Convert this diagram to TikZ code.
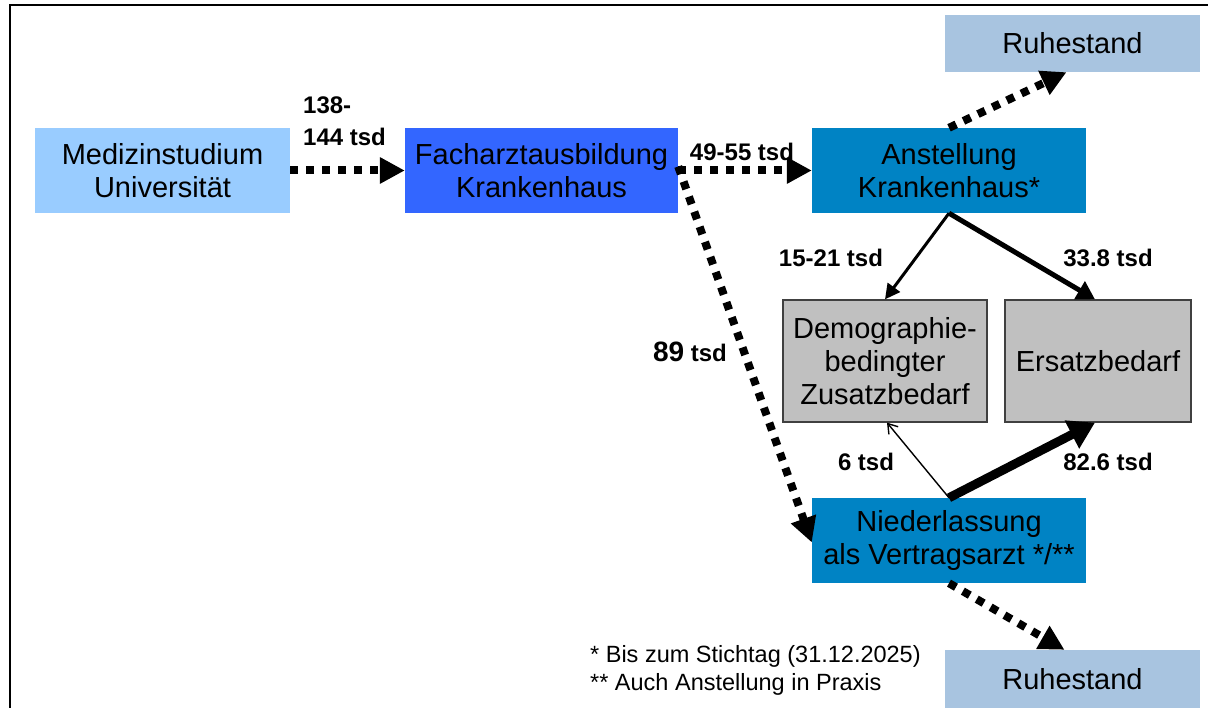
\documentclass[tikz,border=0pt]{standalone}
\usepackage{fontspec}
\setmainfont{Liberation Sans}
\usetikzlibrary{arrows.meta}
\definecolor{cMed}{RGB}{153,204,255}
\definecolor{cFach}{RGB}{51,102,255}
\definecolor{cAnst}{RGB}{0,131,196}
\definecolor{cRuhe}{RGB}{168,196,224}
\definecolor{cGray}{RGB}{192,192,192}
\definecolor{cGrayB}{RGB}{64,64,64}
\tikzset{
  box/.style={rectangle, inner sep=0pt, align=center, font=\fontsize{29}{33}\selectfont},
  graybox/.style={box, fill=cGray, draw=cGrayB, line width=1.3pt},
  lbl/.style={font=\fontsize{24}{32}\selectfont\bfseries, inner sep=0pt},
  dotarrow/.style={line width=8pt, dash pattern=on 8pt off 8pt, -{Triangle[length=25pt,width=25pt]}},
  foot/.style={font=\fontsize{23.5}{28}\selectfont, anchor=west, inner sep=0pt}
}
\begin{document}
\begin{tikzpicture}[x=1pt,y=-1pt]
\useasboundingbox (0,0) rectangle (1208,708);
\fill[white] (0,0) rectangle (1208,708);
\draw[line width=2.5pt] (1208,5) -- (10,5) -- (10,708);

\node[box, fill=cMed, minimum width=255pt, minimum height=85pt] (med) at (162.5,170.5) {Medizinstudium\\Universität};
\node[box, fill=cFach, minimum width=273pt, minimum height=85pt] (fach) at (541.5,170.5) {Facharztausbildung\\Krankenhaus};
\node[box, fill=cAnst, minimum width=274pt, minimum height=85pt] (anst) at (949,170.5) {Anstellung\\Krankenhaus*};
\node[box, fill=cRuhe, minimum width=255pt, minimum height=57pt] (ruhet) at (1072.5,43.5) {Ruhestand};
\node[graybox, minimum width=204pt, minimum height=122pt] (demo) at (885,361) {Demographie-\\bedingter\\Zusatzbedarf};
\node[graybox, minimum width=186pt, minimum height=122pt] (ersatz) at (1098,361) {Ersatzbedarf};
\node[box, fill=cAnst, minimum width=274pt, minimum height=85pt] (nied) at (949,540.5) {Niederlassung\\als Vertragsarzt */**};
\node[box, fill=cRuhe, minimum width=255pt, minimum height=58pt] (ruheb) at (1072.5,679) {Ruhestand};

% dotted flows
\draw[dotarrow] (med.east) -- (fach.west);
\draw[dotarrow] (fach.east) -- (anst.west);
\draw[dotarrow] ([yshift=4pt]fach.east) -- ([yshift=-2pt]nied.west);
\draw[dotarrow] (anst.north) -- ([xshift=-6pt]ruhet.south);
\draw[dotarrow] (nied.south) -- ([xshift=-8pt]ruheb.north);

% solid flows
\draw[line width=3pt, -{Triangle[length=15pt,width=15pt]}] (anst.south) -- (demo.north);
\draw[line width=5pt, -{Triangle[length=18pt,width=20pt]}] (anst.south) -- ([xshift=-3pt]ersatz.north);
\draw[line width=1.4pt, -{Straight Barb[length=9pt,width=12pt]}] (nied.north) -- ([xshift=2pt]demo.south);
\draw[line width=9pt, -{Triangle[length=26pt,width=30pt]}] (nied.north) -- ([xshift=-3pt]ersatz.south);

% labels
\node[lbl, anchor=west, align=left] (l1) at (303,121) {138-\\144 tsd};
\node[lbl] (l2) at (742,152) {49-55 tsd};
\node[lbl] (l3) at (690,352) {{\fontsize{28}{32}\selectfont 89} tsd};
\node[lbl] (l4) at (831,258) {15-21 tsd};
\node[lbl] (l5) at (1108,258) {33.8 tsd};
\node[lbl] (l6) at (866,462) {6 tsd};
\node[lbl] (l7) at (1108,462) {82.6 tsd};

% footnotes
\node[foot] (f1) at (590,656) {* Bis zum Stichtag (31.12.2025)};
\node[foot] (f2) at (590,684) {** Auch Anstellung in Praxis};
\end{tikzpicture}
\end{document}
